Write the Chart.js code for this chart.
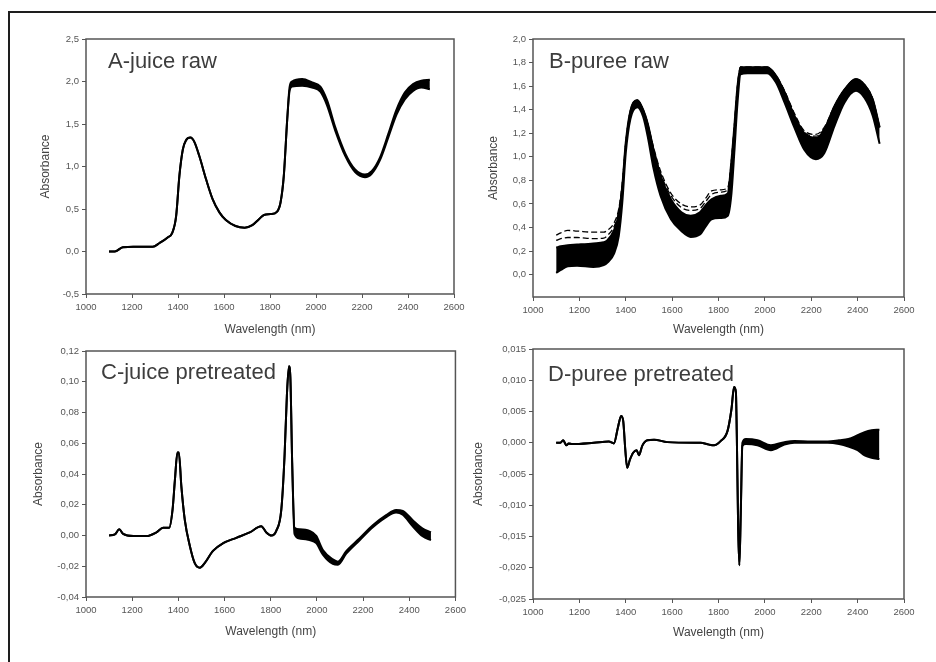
<!DOCTYPE html>
<html>
<head>
<meta charset="utf-8">
<script src="https://cdn.jsdelivr.net/npm/chart.js@4.4.1/dist/chart.umd.min.js"></script>
<style>
  html, body { margin: 0; padding: 0; background: #fff; overflow: hidden; }
  #fig { position: relative; width: 936px; height: 662px; overflow: hidden; background: #fff; }
  .rule { position: absolute; background: #1e1e1e; }
  #ruleTop { left: 8px; top: 11px; width: 928px; height: 2px; }
  #ruleLeft { left: 8px; top: 11px; width: 2px; height: 651px; }
  canvas { position: absolute; }
</style>
</head>
<body>
<div id="fig">
  <div class="rule" id="ruleTop"></div>
  <div class="rule" id="ruleLeft"></div>
  <canvas id="chartA"></canvas>
  <canvas id="chartB"></canvas>
  <canvas id="chartC"></canvas>
  <canvas id="chartD"></canvas>
</div>
<script>
// shared x axis
const xTicks = [1000, 1200, 1400, 1600, 1800, 2000, 2200, 2400, 2600];
const xTickLabels = ["1000", "1200", "1400", "1600", "1800", "2000", "2200", "2400", "2600"];

// A - juice raw
const aWave = [1100, 1125, 1160, 1205, 1290, 1320, 1355, 1375, 1392, 1406,
    1421, 1435, 1454, 1471, 1493, 1522, 1550, 1580, 1608, 1650,
    1690, 1723, 1752, 1774, 1803, 1831, 1846, 1860, 1875, 1885,
    1896, 1940, 1983, 2019, 2048, 2084, 2127, 2170, 2213, 2242,
    2278, 2314, 2350, 2386, 2422, 2458, 2495];
const aLower = [0, 0, 0.05, 0.055, 0.055, 0.10, 0.165, 0.22, 0.42, 0.89,
    1.20, 1.31, 1.34, 1.29, 1.12, 0.85, 0.62, 0.46, 0.37, 0.30,
    0.28, 0.31, 0.38, 0.43, 0.44, 0.47, 0.58, 0.89, 1.56, 1.89,
    1.94, 1.95, 1.93, 1.88, 1.72, 1.42, 1.125, 0.935, 0.875, 0.915,
    1.075, 1.34, 1.61, 1.79, 1.89, 1.93, 1.91];
const aUpper = [0, 0, 0.05, 0.055, 0.055, 0.10, 0.165, 0.22, 0.42, 0.89,
    1.20, 1.31, 1.34, 1.29, 1.12, 0.85, 0.62, 0.46, 0.37, 0.30,
    0.28, 0.31, 0.38, 0.43, 0.44, 0.47, 0.58, 0.89, 1.56, 1.93,
    2.00, 2.03, 1.99, 1.94, 1.78, 1.46, 1.155, 0.965, 0.905, 0.945,
    1.105, 1.38, 1.67, 1.87, 1.97, 2.01, 2.02];
const aYTicks = [-0.5, 0, 0.5, 1, 1.5, 2, 2.5];
const aYLabels = ["-0,5", "0,0", "0,5", "1,0", "1,5", "2,0", "2,5"];

// B - puree raw
const bWave = [1100, 1120, 1150, 1190, 1260, 1305, 1320, 1350, 1370, 1385,
    1400, 1420, 1450, 1475, 1495, 1520, 1550, 1595, 1640, 1680,
    1720, 1745, 1770, 1810, 1840, 1855, 1868, 1882, 1895, 1925,
    2010, 2048, 2085, 2127, 2170, 2220, 2256, 2300, 2343, 2393,
    2430, 2465, 2495];
const bLower = [0.015, 0.04, 0.07, 0.075, 0.065, 0.08, 0.10, 0.18, 0.33, 0.61,
    1.03, 1.32, 1.42, 1.34, 1.17, 0.90, 0.67, 0.47, 0.37, 0.32,
    0.34, 0.41, 0.47, 0.48, 0.50, 0.67, 1.03, 1.46, 1.70, 1.71,
    1.71, 1.63, 1.46, 1.25, 1.06, 0.98, 1.03, 1.26, 1.46, 1.56,
    1.50, 1.35, 1.11];
const bUpper = [0.23, 0.24, 0.25, 0.255, 0.265, 0.275, 0.29, 0.38, 0.52, 0.75,
    1.12, 1.39, 1.48, 1.40, 1.28, 1.06, 0.84, 0.64, 0.53, 0.50,
    0.53, 0.59, 0.64, 0.67, 0.69, 0.95, 1.25, 1.60, 1.76, 1.76,
    1.76, 1.69, 1.55, 1.35, 1.20, 1.16, 1.23, 1.43, 1.57, 1.66,
    1.61, 1.49, 1.25];
const bDash1 = [0.335, 0.355, 0.375, 0.37, 0.36, 0.36, 0.375, 0.44, 0.56, 0.78,
    1.12, 1.39, 1.48, 1.40, 1.28, 1.08, 0.88, 0.69, 0.60, 0.575,
    0.59, 0.65, 0.71, 0.72, 0.74, 0.95, 1.25, 1.60, 1.76, 1.76,
    1.76, 1.69, 1.56, 1.37, 1.22, 1.19, 1.25, 1.43, 1.57, 1.66,
    1.61, 1.49, 1.25];
const bDash2 = [0.29, 0.305, 0.315, 0.315, 0.305, 0.31, 0.33, 0.41, 0.54, 0.76,
    1.12, 1.39, 1.48, 1.40, 1.28, 1.07, 0.86, 0.67, 0.57, 0.545,
    0.56, 0.62, 0.68, 0.70, 0.72, 0.95, 1.25, 1.60, 1.76, 1.76,
    1.76, 1.69, 1.555, 1.36, 1.21, 1.175, 1.24, 1.43, 1.57, 1.66,
    1.61, 1.49, 1.25];
const bYTicks = [0, 0.2, 0.4, 0.6, 0.8, 1.0, 1.2, 1.4, 1.6, 1.8, 2.0];
const bYLabels = ["0,0", "0,2", "0,4", "0,6", "0,8", "1,0", "1,2", "1,4", "1,6", "1,8", "2,0"];

// C - juice pretreated
const cWave = [1100, 1125, 1144, 1161, 1205, 1262, 1305, 1334, 1360, 1375,
    1385, 1396, 1402, 1413, 1428, 1450, 1471, 1493, 1514, 1550,
    1594, 1651, 1709, 1759, 1781, 1803, 1824, 1846, 1860, 1870,
    1879, 1885, 1893, 1903, 1925, 1968, 1997, 2026, 2069, 2091,
    2127, 2184, 2242, 2300, 2343, 2372, 2415, 2458, 2494];
const cLower = [0, 0.0007, 0.004, 0.001, -0.0004, -0.0004, 0.002, 0.005, 0.005, 0.017,
    0.036, 0.054, 0.054, 0.032, 0.010, -0.007, -0.018, -0.021, -0.018, -0.010,
    -0.005, -0.0015, 0.002, 0.006, 0.002, 0, 0.003, 0.017, 0.052, 0.091,
    0.110, 0.103, 0.047, 0.001, -0.002, -0.003, -0.005, -0.0125, -0.0185, -0.019,
    -0.0118, -0.0032, 0.0054, 0.012, 0.015, 0.0135, 0.006, -0.0005, -0.003];
const cUpper = [0, 0.0007, 0.004, 0.001, -0.0004, -0.0004, 0.002, 0.005, 0.005, 0.017,
    0.036, 0.054, 0.054, 0.032, 0.010, -0.007, -0.018, -0.021, -0.018, -0.010,
    -0.005, -0.0015, 0.002, 0.006, 0.002, 0, 0.003, 0.017, 0.052, 0.091,
    0.110, 0.103, 0.047, 0.005, 0.004, 0.003, -0.0002, -0.0095, -0.0155, -0.017,
    -0.0102, -0.002, 0.0066, 0.0132, 0.0166, 0.016, 0.010, 0.0045, 0.002];
const cYTicks = [-0.04, -0.02, 0, 0.02, 0.04, 0.06, 0.08, 0.10, 0.12];
const cYLabels = ["-0,04", "-0,02", "0,00", "0,02", "0,04", "0,06", "0,08", "0,10", "0,12"];

// D - puree pretreated
const dWave = [1100, 1118, 1130, 1144, 1154, 1169, 1262, 1327, 1349, 1366,
    1380, 1389, 1398, 1406, 1418, 1432, 1447, 1457, 1471, 1493,
    1522, 1579, 1695, 1723, 1759, 1781, 1810, 1839, 1856, 1867,
    1875, 1879, 1885, 1890, 1896, 1903, 1918, 1968, 2026, 2084,
    2127, 2200, 2271, 2320, 2360, 2400, 2430, 2460, 2494];
const dLower = [0, 0, 0.0004, -0.0004, -0.0001, -0.0002, 0, 0.0002, -0.0001, 0.0024,
    0.0043, 0.0035, -0.0011, -0.0040, -0.0027, -0.0016, -0.0012, -0.0020, -0.0005, 0.0004,
    0.0005, 0.0001, 0, 0, -0.0003, -0.0004, 0.0003, 0.0019, 0.0054, 0.0089,
    0.0081, 0.0011, -0.0140, -0.0196, -0.0113, -0.0005, -0.0002, -0.0004, -0.0012, -0.0003,
    0, 0, 0, -0.0002, -0.0006, -0.0012, -0.0020, -0.0024, -0.0026];
const dUpper = [0, 0, 0.0004, -0.0004, -0.0001, -0.0002, 0, 0.0002, -0.0001, 0.0024,
    0.0043, 0.0035, -0.0011, -0.0040, -0.0027, -0.0016, -0.0012, -0.0020, -0.0005, 0.0004,
    0.0005, 0.0001, 0, 0, -0.0003, -0.0004, 0.0003, 0.0019, 0.0054, 0.0089,
    0.0081, 0.0011, -0.0140, -0.0196, -0.0113, 0, 0.0006, 0.0004, -0.0004, 0.0001,
    0.0003, 0.0002, 0.0002, 0.0004, 0.0006, 0.0012, 0.0017, 0.0020, 0.0021];
const dYTicks = [-0.025, -0.020, -0.015, -0.010, -0.005, 0, 0.005, 0.010, 0.015];
const dYLabels = ["-0,025", "-0,020", "-0,015", "-0,010", "-0,005", "0,000", "0,005", "0,010", "0,015"];

const FONT = '"Liberation Sans", Arial, sans-serif';

const panelDecor = {
    id: "panelDecor",
    beforeDatasetsDraw(chart, args, opts) {
        const { ctx, chartArea: a } = chart;
        ctx.save();
        ctx.fillStyle = "#3d3d3d";
        ctx.font = "22px " + FONT;
        ctx.textBaseline = "alphabetic";
        ctx.fillText(opts.text, a.left + opts.dx, a.top + opts.dy);
        ctx.restore();
    },
    afterDraw(chart) {
        const { ctx, chartArea: a } = chart;
        ctx.save();
        ctx.strokeStyle = "#555";
        ctx.lineWidth = 1.5;
        ctx.strokeRect(a.left, a.top, a.right - a.left, a.bottom - a.top);
        ctx.restore();
    }
};

function line(wave, values, extra) {
    return Object.assign({
        data: wave.map((w, i) => ({ x: w, y: values[i] })),
        borderColor: "#000",
        backgroundColor: "#000",
        borderWidth: 2,
        pointRadius: 0,
        fill: false,
        cubicInterpolationMode: "monotone"
    }, extra || {});
}

function spectrumChart(id, box, plot, yTitleX, xTitleY, datasets, yMin, yMax, yTicks, yLabels, label) {
    const el = document.getElementById(id);
    el.width = box.w;
    el.height = box.h;
    el.style.left = box.x + "px";
    el.style.top = box.y + "px";
    const half = 12 * 1.2 / 2;

    return new Chart(el.getContext("2d"), {
        type: "line",
        data: { datasets: datasets },
        plugins: [panelDecor],
        options: {
            responsive: false,
            animation: false,
            events: [],
            layout: {
                padding: { left: 0, top: plot.t - box.y, right: box.x + box.w - plot.r, bottom: 0 }
            },
            plugins: {
                legend: { display: false },
                tooltip: { enabled: false },
                panelDecor: label
            },
            scales: {
                x: {
                    type: "linear",
                    min: 1000,
                    max: 2600,
                    afterBuildTicks(scale) {
                        scale.ticks = xTicks.map(v => ({ value: v }));
                    },
                    afterFit(scale) {
                        scale.height = box.y + box.h - plot.b;
                    },
                    border: { display: false },
                    grid: { drawOnChartArea: false, drawTicks: true, tickLength: 4, color: "#555", lineWidth: 1 },
                    ticks: {
                        autoSkip: false,
                        maxRotation: 0,
                        padding: 4,
                        color: "#555",
                        font: { family: FONT, size: 9.5 },
                        callback(value, index) {
                            return xTickLabels[index];
                        }
                    },
                    title: {
                        display: true,
                        text: "Wavelength (nm)",
                        color: "#444",
                        font: { family: FONT, size: 12 },
                        padding: { top: 0, bottom: box.y + box.h - xTitleY - half }
                    }
                },
                y: {
                    type: "linear",
                    min: yMin,
                    max: yMax,
                    afterBuildTicks(scale) {
                        scale.ticks = yTicks.map(v => ({ value: v }));
                    },
                    afterFit(scale) {
                        scale.width = plot.l - box.x;
                    },
                    border: { display: false },
                    grid: { drawOnChartArea: false, drawTicks: true, tickLength: 4, color: "#555", lineWidth: 1 },
                    ticks: {
                        autoSkip: false,
                        padding: 3,
                        color: "#555",
                        font: { family: FONT, size: 9.5 },
                        callback(value, index) {
                            return yLabels[index];
                        }
                    },
                    title: {
                        display: true,
                        text: "Absorbance",
                        color: "#444",
                        font: { family: FONT, size: 12 },
                        padding: { top: yTitleX - box.x - half, bottom: 0 }
                    }
                }
            }
        }
    });
}

spectrumChart("chartA",
    { x: 0, y: 22, w: 470, h: 318 }, { l: 86, t: 39, r: 454, b: 294 }, 46, 330,
    [line(aWave, aUpper, { fill: "+1" }), line(aWave, aLower)],
    -0.5, 2.5, aYTicks, aYLabels, { text: "A-juice raw", dx: 22, dy: 29 });

spectrumChart("chartB",
    { x: 470, y: 22, w: 466, h: 318 }, { l: 533, t: 39, r: 904, b: 297 }, 494, 330,
    [line(bWave, bUpper, { fill: "+1" }), line(bWave, bLower),
     line(bWave, bDash1, { borderWidth: 1.3, borderDash: [6, 3] }),
     line(bWave, bDash2, { borderWidth: 1.3, borderDash: [6, 3] })],
    -0.19, 2.0, bYTicks, bYLabels, { text: "B-puree raw", dx: 16, dy: 29 });

spectrumChart("chartC",
    { x: 0, y: 340, w: 470, h: 322 }, { l: 86, t: 351, r: 457, b: 597 }, 39, 632,
    [line(cWave, cUpper, { fill: "+1" }), line(cWave, cLower)],
    -0.04, 0.12, cYTicks, cYLabels, { text: "C-juice pretreated", dx: 15, dy: 28 });

spectrumChart("chartD",
    { x: 470, y: 340, w: 466, h: 322 }, { l: 533, t: 349, r: 904, b: 599 }, 479, 633,
    [line(dWave, dUpper, { fill: "+1" }), line(dWave, dLower)],
    -0.025, 0.015, dYTicks, dYLabels, { text: "D-puree pretreated", dx: 15, dy: 32 });
</script>
</body>
</html>
